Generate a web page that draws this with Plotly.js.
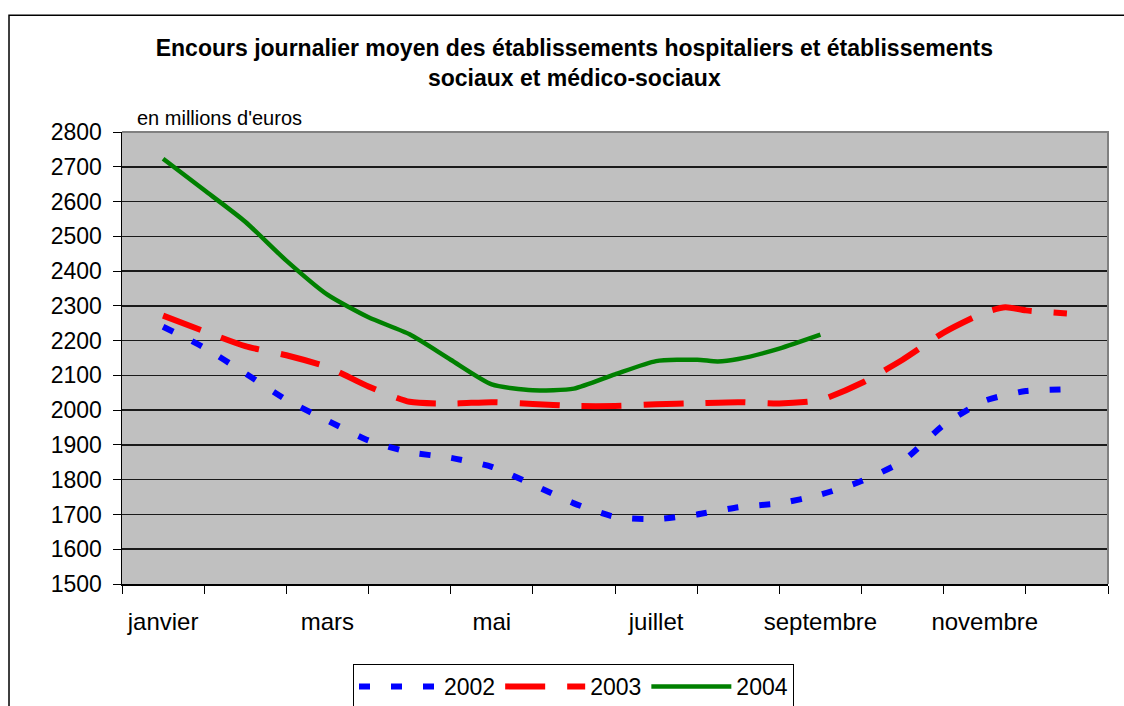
<!DOCTYPE html>
<html>
<head>
<meta charset="utf-8">
<script src="https://cdn.plot.ly/plotly-3.0.1.min.js"></script>
<style>html,body{margin:0;padding:0;background:#fff;}#chart{width:1124px;height:706px;}</style>
</head>
<body>
<div id="chart"></div>
<script>
// Month positions (in months from 1 January) of each reading
const pos2002 = [0.5, 1, 1.5, 2, 2.5, 3, 3.5, 4, 4.5, 5, 5.5, 6, 6.5, 7, 7.5, 8, 8.5, 9, 9.5, 10, 10.5, 11, 11.5];
const val2002 = [2240, 2180, 2106, 2030, 1970, 1913, 1879, 1863, 1837, 1786, 1732, 1693, 1687, 1700, 1721, 1732, 1757, 1796, 1853, 1957, 2027, 2055, 2060];

const pos2003 = [0.5, 1, 1.5, 2, 2.5, 3, 3.5, 4, 4.5, 5, 5.5, 6, 6.5, 7, 7.5, 8, 8.5, 9, 9.5, 10, 10.5, 10.75, 11, 11.5];
const val2003 = [2272, 2227, 2184, 2158, 2124, 2068, 2024, 2019, 2023, 2018, 2012, 2012, 2017, 2020, 2023, 2019, 2029, 2078, 2145, 2223, 2281, 2296, 2287, 2278];

const pos2004 = [0.5, 1, 1.5, 2, 2.5, 3, 3.5, 4, 4.5, 5, 5.5, 6, 6.5, 7, 7.25, 7.5, 8, 8.5];
const val2004 = [2723, 2633, 2542, 2430, 2332, 2267, 2218, 2145, 2074, 2057, 2062, 2103, 2141, 2145, 2140, 2147, 2177, 2217];

const seriesNames = ['2002', '2003', '2004'];
const monthTickPos = [0, 1, 2, 3, 4, 5, 6, 7, 8, 9, 10, 11, 12];
const monthLabelPos = [0.5, 2.5, 4.5, 6.5, 8.5, 10.5];
const monthLabels = ['janvier', 'mars', 'mai', 'juillet', 'septembre', 'novembre'];
const titleText = 'Encours journalier moyen des établissements hospitaliers et établissements<br>sociaux et médico-sociaux';
const unitText = "en millions d'euros";

const FONT = 'Liberation Sans, Arial, Helvetica, sans-serif';

const traces = [
  {x: pos2002, y: val2002, name: seriesNames[0], type: 'scatter', mode: 'lines',
   line: {color: '#0000FF', width: 6, dash: '11px,21px', shape: 'spline', smoothing: 0.6}},
  {x: pos2003, y: val2003, name: seriesNames[1], type: 'scatter', mode: 'lines',
   line: {color: '#FF0000', width: 6, dash: '40px,22px', shape: 'spline', smoothing: 0.6}},
  {x: pos2004, y: val2004, name: seriesNames[2], type: 'scatter', mode: 'lines',
   line: {color: '#008000', width: 4.5, shape: 'spline', smoothing: 0.6}}
];

const layout = {
  width: 1124, height: 706,
  margin: {l: 122, r: 16, t: 132, b: 122},
  paper_bgcolor: '#FFFFFF',
  plot_bgcolor: '#C0C0C0',
  font: {family: FONT, color: '#000000'},
  showlegend: true,
  title: {
    text: titleText,
    font: {family: FONT, size: 23, color: '#000000', weight: 'bold'},
    x: 0.511, xanchor: 'center', xref: 'container',
    y: 0.92, yanchor: 'top', yref: 'container'
  },
  xaxis: {
    range: [0, 12], tickmode: 'array', tickvals: monthLabelPos, ticktext: monthLabels,
    ticks: '', ticklabelstandoff: 16,
    tickfont: {family: FONT, size: 24, color: '#000000'},
    minor: {tickmode: 'array', tickvals: monthTickPos, ticks: 'outside', ticklen: 8,
            tickwidth: 1, tickcolor: '#000000', showgrid: false},
    showline: true, linecolor: '#000000', linewidth: 1.5,
    showgrid: false, zeroline: false, fixedrange: true
  },
  yaxis: {
    range: [1500, 2800], tickmode: 'linear', tick0: 1500, dtick: 100,
    ticks: 'outside', ticklen: 8, tickwidth: 1, tickcolor: '#000000',
    showline: true, linecolor: '#000000', linewidth: 1.5,
    showgrid: true, gridcolor: '#1a1a1a', gridwidth: 1.5, zeroline: false,
    tickfont: {family: FONT, size: 23, color: '#000000'},
    ticklabelstandoff: 6, fixedrange: true
  },
  legend: {
    orientation: 'h', x: 353 / 1124, xref: 'container', xanchor: 'left',
    y: 1 - 664 / 706, yref: 'container', yanchor: 'top',
    bgcolor: '#FFFFFF', bordercolor: '#000000', borderwidth: 1,
    font: {family: FONT, size: 23, color: '#000000'},
    itemwidth: 80, tracegroupgap: 0
  },
  annotations: [{
    text: unitText, xref: 'paper', yref: 'paper', x: 0.013, y: 1.03,
    xanchor: 'left', yanchor: 'middle', showarrow: false,
    font: {family: FONT, size: 20, color: '#000000'}
  }],
  shapes: [
    {type: 'path', xref: 'paper', yref: 'paper', path: 'M0,1 L1,1 L1,0',
     line: {color: '#808080', width: 2}, layer: 'above'},
    {type: 'rect', xref: 'paper', yref: 'paper', x0: -0.1146, x1: 1.06, y0: -0.5, y1: 1.2583,
     line: {color: '#000000', width: 1.5}, fillcolor: 'rgba(0,0,0,0)'}
  ]
};

Plotly.newPlot('chart', traces, layout, {displayModeBar: false, staticPlot: true});
</script>
</body>
</html>
